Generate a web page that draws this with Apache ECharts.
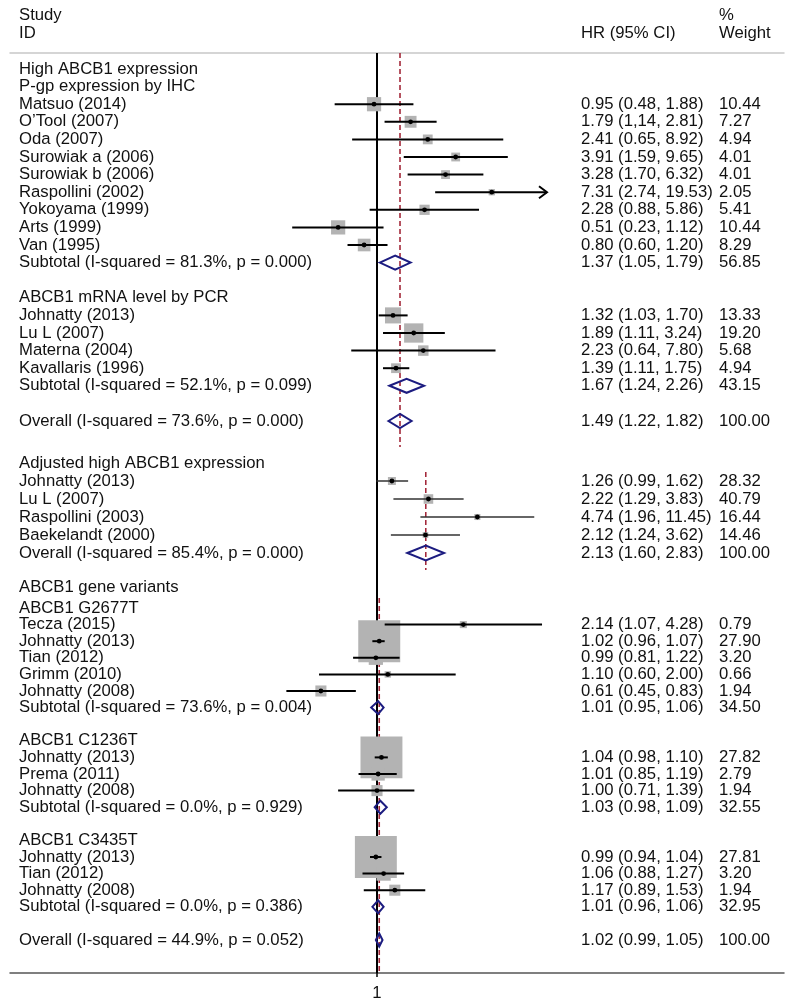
<!DOCTYPE html>
<html><head><meta charset="utf-8">
<script src="https://cdn.jsdelivr.net/npm/echarts@6/dist/echarts.min.js"></script>
<style>html,body{margin:0;padding:0;background:#fff}#c{width:794px;height:1006px}</style>
</head><body><div id="c"></div>
<script>
// ---------------- DATA ----------------
// Panel A: High ABCB1 expression (unadjusted)
const labelsA = ['High ABCB1 expression','P-gp expression by IHC','Matsuo (2014)','O\u2019Tool (2007)','Oda (2007)',
  'Surowiak a (2006)','Surowiak b (2006)','Raspollini (2002)','Yokoyama (1999)','Arts (1999)','Van (1995)',
  'Subtotal (I-squared = 81.3%, p = 0.000)','','ABCB1 mRNA level by PCR','Johnatty (2013)','Lu L (2007)',
  'Materna (2004)','Kavallaris (1996)','Subtotal (I-squared = 52.1%, p = 0.099)','','Overall (I-squared = 73.6%, p = 0.000)'];
const hrA = [null,null,0.95,1.79,2.41,3.91,3.28,7.31,2.28,0.51,0.80,1.37,null,null,1.32,1.89,2.23,1.39,1.67,null,1.49];
const loA = [null,null,0.48,1.14,0.65,1.59,1.70,2.74,0.88,0.23,0.60,1.05,null,null,1.03,1.11,0.64,1.11,1.24,null,1.22];
const hiA = [null,null,1.88,2.81,8.92,9.65,6.32,19.53,5.86,1.12,1.20,1.79,null,null,1.70,3.24,7.80,1.75,2.26,null,1.82];
const ciA = ['','','0.95 (0.48, 1.88)','1.79 (1,14, 2.81)','2.41 (0.65, 8.92)','3.91 (1.59, 9.65)','3.28 (1.70, 6.32)',
  '7.31 (2.74, 19.53)','2.28 (0.88, 5.86)','0.51 (0.23, 1.12)','0.80 (0.60, 1.20)','1.37 (1.05, 1.79)','','',
  '1.32 (1.03, 1.70)','1.89 (1.11, 3.24)','2.23 (0.64, 7.80)','1.39 (1.11, 1.75)','1.67 (1.24, 2.26)','','1.49 (1.22, 1.82)'];
const wA = [null,null,10.44,7.27,4.94,4.01,4.01,2.05,5.41,10.44,8.29,56.85,null,null,13.33,19.20,5.68,4.94,43.15,null,100.00];

// Panel B: Adjusted high ABCB1 expression
const labelsB = ['Adjusted high ABCB1 expression','Johnatty (2013)','Lu L (2007)','Raspollini (2003)','Baekelandt (2000)',
  'Overall (I-squared = 85.4%, p = 0.000)'];
const hrB = [null,1.26,2.22,4.74,2.12,2.13];
const loB = [null,0.99,1.29,1.96,1.24,1.60];
const hiB = [null,1.62,3.83,11.45,3.62,2.83];
const ciB = ['','1.26 (0.99, 1.62)','2.22 (1.29, 3.83)','4.74 (1.96, 11.45)','2.12 (1.24, 3.62)','2.13 (1.60, 2.83)'];
const wB = [null,28.32,40.79,16.44,14.46,100.00];

// Panel C: ABCB1 gene variants
const labelsC = ['ABCB1 gene variants','ABCB1 G2677T','Tecza (2015)','Johnatty (2013)','Tian (2012)','Grimm (2010)',
  'Johnatty (2008)','Subtotal (I-squared = 73.6%, p = 0.004)','','ABCB1 C1236T','Johnatty (2013)','Prema (2011)',
  'Johnatty (2008)','Subtotal (I-squared = 0.0%, p = 0.929)','','ABCB1 C3435T','Johnatty (2013)','Tian (2012)',
  'Johnatty (2008)','Subtotal (I-squared = 0.0%, p = 0.386)','','Overall (I-squared = 44.9%, p = 0.052)'];
const hrC = [null,null,2.14,1.02,0.99,1.10,0.61,1.01,null,null,1.04,1.01,1.00,1.03,null,null,0.99,1.06,1.17,1.01,null,1.02];
const loC = [null,null,1.07,0.96,0.81,0.60,0.45,0.95,null,null,0.98,0.85,0.71,0.98,null,null,0.94,0.88,0.89,0.96,null,0.99];
const hiC = [null,null,4.28,1.07,1.22,2.00,0.83,1.06,null,null,1.10,1.19,1.39,1.09,null,null,1.04,1.27,1.53,1.06,null,1.05];
const ciC = ['','','2.14 (1.07, 4.28)','1.02 (0.96, 1.07)','0.99 (0.81, 1.22)','1.10 (0.60, 2.00)','0.61 (0.45, 0.83)',
  '1.01 (0.95, 1.06)','','','1.04 (0.98, 1.10)','1.01 (0.85, 1.19)','1.00 (0.71, 1.39)','1.03 (0.98, 1.09)','','',
  '0.99 (0.94, 1.04)','1.06 (0.88, 1.27)','1.17 (0.89, 1.53)','1.01 (0.96, 1.06)','','1.02 (0.99, 1.05)'];
const wC = [null,null,0.79,27.90,3.20,0.66,1.94,34.50,null,null,27.82,2.79,1.94,32.55,null,null,27.81,3.20,1.94,32.95,null,100.00];

const refValue = [1];
const headerLeft = ['Study','ID'];
const headerCI = 'HR (95% CI)';
const headerW = ['%','Weight'];

// ---------------- LAYOUT / STYLE ----------------
const FONT = '16.7px "Liberation Sans", Arial, sans-serif';
const TXT = '#111';
const X1 = 377, GL = 10, GR = 784;
const COL_LABEL = 19, COL_CI = 581, COL_W = 719;

const panels = [
  {labels: labelsA, hr: hrA, lo: loA, hi: hiA, ci: ciA, w: wA,
   y0: 69, step: 17.6, gap: 1, top: 53, bottom: 447, ppl: 57.7, right: 547, sq: 4.4, lw: 2, lc: '#000', dh: 7},
  {labels: labelsB, hr: hrB, lo: loB, hi: hiB, ci: ciB, w: wB,
   y0: 463, step: 18, gap: 1, top: 472, bottom: 570, ppl: 64.5, right: GR, sq: 1.5, lw: 1.3, lc: '#333', dh: 7.5},
  {labels: labelsC, hr: hrC, lo: loC, hi: hiC, ci: ciC, w: wC,
   y0: 587, step: 16.6, gap: 1.265, top: 598, bottom: 973, ppl: 113.5, right: GR, sq: 7.95, lw: 2, lc: '#000', dh: 6.5}
];
function pos(p, i) { return i === 0 ? 0 : p.gap + i - 1; }
panels.forEach(p => {
  p.xmin = Math.exp(-(X1 - GL) / p.ppl);
  p.xmax = Math.exp((p.right - X1) / p.ppl);
  p.ymin = (p.top - p.y0) / p.step;
  p.ymax = (p.bottom - p.y0) / p.step;
});
const frame = {ppl: 57.7};
frame.xmin = Math.exp(-(X1 - GL) / frame.ppl);
frame.xmax = Math.exp((GR - X1) / frame.ppl);

const grids = [{left: GL, width: GR - GL, top: 53, height: 973 - 53}];
const xAxes = [
  {type: 'log', gridIndex: 0, min: frame.xmin, max: frame.xmax, position: 'bottom',
   axisLine: {show: true, lineStyle: {color: '#555', width: 1.5}},
   axisTick: {show: true, customValues: refValue, length: 4, lineStyle: {color: '#000', width: 1.5}},
   axisLabel: {show: true, customValues: refValue, formatter: v => String(Math.round(v)), margin: 12,
               color: TXT, fontSize: 16.7, fontFamily: '"Liberation Sans", Arial, sans-serif'},
   splitLine: {show: false}, minorTick: {show: false}},
  {type: 'log', gridIndex: 0, min: frame.xmin, max: frame.xmax, position: 'top',
   axisLine: {show: true, lineStyle: {color: '#c8c8c8', width: 1.5}},
   axisTick: {show: false}, axisLabel: {show: false}, splitLine: {show: false}}
];
const yAxes = [{type: 'value', gridIndex: 0, min: 0, max: 1, show: false}];
const series = [
  {type: 'line', xAxisIndex: 0, yAxisIndex: 0, data: [[refValue[0], 0], [refValue[0], 1]], symbol: 'none',
   lineStyle: {color: '#000', width: 2}, silent: true, z: 1, animation: false}
];

panels.forEach((p, k) => {
  const g = k + 1;       // grid index and y axis index
  const xi = k + 2;      // x axis index (grid 0 owns two x axes)
  grids.push({left: GL, width: p.right - GL, top: p.top, height: p.bottom - p.top});
  xAxes.push({type: 'log', gridIndex: g, min: p.xmin, max: p.xmax, show: false});
  yAxes.push({type: 'value', gridIndex: g, min: p.ymin, max: p.ymax, inverse: true, show: false});
  const last = p.hr.length - 1;
  // dashed overall line
  series.push({type: 'line', xAxisIndex: xi, yAxisIndex: g, data: [[p.hr[last], p.ymin], [p.hr[last], p.ymax]],
    symbol: 'none', lineStyle: {color: '#a3283a', width: 1.6, type: [5, 3]}, silent: true, z: 1, animation: false});
  const data = p.labels.map((_, i) => [1, pos(p, i)]);
  const isDiamond = i => /^(Subtotal|Overall)/.test(p.labels[i]);
  // squares (weights)
  series.push({type: 'custom', xAxisIndex: xi, yAxisIndex: g, data, encode: {x: 0, y: 1}, clip: false, z: 2,
    silent: true, animation: false,
    renderItem: (params, api) => {
      const i = params.dataIndex;
      if (p.hr[i] == null || isDiamond(i)) return {type: 'group', children: []};
      const c = api.coord([p.hr[i], pos(p, i)]);
      const s = p.sq * Math.sqrt(p.w[i]);
      return {type: 'rect', shape: {x: c[0] - s / 2, y: c[1] - s / 2, width: s, height: s},
              style: {fill: '#b3b3b3'}};
    }});
  // lines, dots, diamonds and texts
  series.push({type: 'custom', xAxisIndex: xi, yAxisIndex: g, data, encode: {x: 0, y: 1}, clip: false, z: 3,
    silent: true, animation: false,
    renderItem: (params, api) => {
      const i = params.dataIndex;
      const yv = pos(p, i);
      const yPix = api.coord([1, yv])[1];
      const ch = [];
      if (p.labels[i]) ch.push({type: 'text', style: {text: p.labels[i], x: COL_LABEL, y: yPix, font: FONT,
        fill: TXT, verticalAlign: 'middle', align: 'left'}});
      if (p.hr[i] != null) {
        ch.push({type: 'text', style: {text: p.ci[i], x: COL_CI, y: yPix, font: FONT, fill: TXT, verticalAlign: 'middle'}});
        ch.push({type: 'text', style: {text: p.w[i].toFixed(2), x: COL_W, y: yPix, font: FONT, fill: TXT, verticalAlign: 'middle'}});
        const a = api.coord([p.lo[i], yv]);
        const arrow = p.hi[i] > p.xmax;
        const b = api.coord([Math.min(p.hi[i], p.xmax), yv]);
        const c = api.coord([p.hr[i], yv]);
        if (isDiamond(i)) {
          ch.push({type: 'polygon', shape: {points: [a, [c[0], c[1] - p.dh], b, [c[0], c[1] + p.dh]]},
            style: {fill: 'rgba(0,0,0,0)', stroke: '#1c1c80', lineWidth: 2}});
        } else {
          ch.push({type: 'line', shape: {x1: a[0], y1: a[1], x2: b[0], y2: b[1]},
            style: {stroke: p.lc, lineWidth: p.lw}});
          if (arrow) ch.push({type: 'polyline', shape: {points: [[b[0] - 8, b[1] - 6], b, [b[0] - 8, b[1] + 6]]},
            style: {stroke: p.lc, lineWidth: p.lw, fill: 'rgba(0,0,0,0)'}});
          ch.push({type: 'circle', shape: {cx: c[0], cy: c[1], r: 2.4}, style: {fill: '#000'}});
        }
      }
      return {type: 'group', children: ch};
    }});
});

const graphic = [
  {type: 'text', x: COL_LABEL, y: 15, style: {text: headerLeft[0], font: FONT, fill: TXT, verticalAlign: 'middle'}},
  {type: 'text', x: COL_LABEL, y: 33, style: {text: headerLeft[1], font: FONT, fill: TXT, verticalAlign: 'middle'}},
  {type: 'text', x: COL_CI, y: 33, style: {text: headerCI, font: FONT, fill: TXT, verticalAlign: 'middle'}},
  {type: 'text', x: COL_W, y: 15, style: {text: headerW[0], font: FONT, fill: TXT, verticalAlign: 'middle'}},
  {type: 'text', x: COL_W, y: 33, style: {text: headerW[1], font: FONT, fill: TXT, verticalAlign: 'middle'}}
];

const chart = echarts.init(document.getElementById('c'), null, {renderer: 'canvas'});
chart.setOption({
  animation: false,
  backgroundColor: '#fff',
  grid: grids, xAxis: xAxes, yAxis: yAxes, series, graphic
});
</script>
</body></html>
